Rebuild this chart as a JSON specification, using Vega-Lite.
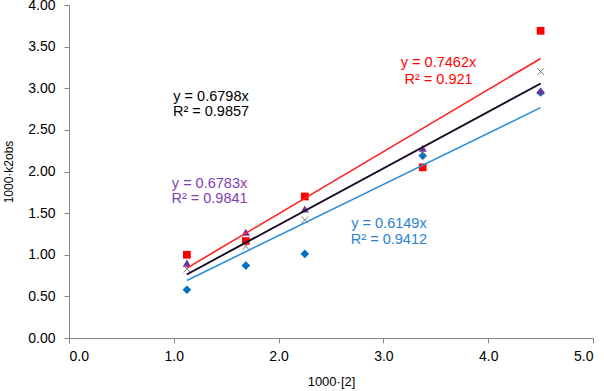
{
  "$schema": "https://vega.github.io/schema/vega-lite/v6.json",
  "width": 524,
  "height": 333,
  "autosize": "none",
  "padding": {"left": 69, "top": 5, "right": 11, "bottom": 53},
  "background": "white",
  "config": {
    "view": {"stroke": null},
    "font": "Liberation Sans",
    "axis": {
      "grid": false,
      "domainColor": "#868686",
      "tickColor": "#868686",
      "labelColor": "#000000",
      "labelFont": "Liberation Sans",
      "labelFontSize": 14,
      "titleFont": "Liberation Sans",
      "titleFontWeight": "normal",
      "titleColor": "#000000",
      "tickSize": 5
    }
  },
  "datasets": {
    "points": [
      {"series": "diamond", "x": 1.125, "y": 0.58},
      {"series": "diamond", "x": 1.6875, "y": 0.87},
      {"series": "diamond", "x": 2.25, "y": 1.01},
      {"series": "diamond", "x": 3.375, "y": 2.19},
      {"series": "diamond", "x": 4.5, "y": 2.95},
      {"series": "triangle", "x": 1.125, "y": 0.90},
      {"series": "triangle", "x": 1.6875, "y": 1.27},
      {"series": "triangle", "x": 2.25, "y": 1.55},
      {"series": "triangle", "x": 3.375, "y": 2.28},
      {"series": "triangle", "x": 4.5, "y": 2.97},
      {"series": "square", "x": 1.125, "y": 1.00},
      {"series": "square", "x": 1.6875, "y": 1.165},
      {"series": "square", "x": 2.25, "y": 1.70},
      {"series": "square", "x": 3.375, "y": 2.05},
      {"series": "square", "x": 4.5, "y": 3.69}
    ],
    "crosses": [
      {"series": "cross", "x": 1.125, "y": 0.83},
      {"series": "cross", "x": 1.6875, "y": 1.10},
      {"series": "cross", "x": 2.25, "y": 1.42},
      {"series": "cross", "x": 3.375, "y": 2.22},
      {"series": "cross", "x": 4.5, "y": 3.20}
    ],
    "trends": [
      {"series": "diamond", "x": 1.125, "y": 0.6918},
      {"series": "diamond", "x": 4.5, "y": 2.7671},
      {"series": "triangle", "x": 1.125, "y": 0.7631},
      {"series": "triangle", "x": 4.5, "y": 3.0524},
      {"series": "square", "x": 1.125, "y": 0.8395},
      {"series": "square", "x": 4.5, "y": 3.3579},
      {"series": "cross", "x": 1.125, "y": 0.7648},
      {"series": "cross", "x": 4.5, "y": 3.0591}
    ],
    "labels": [
      {"series": "square", "x": 3.526, "y": 3.301, "label": "y = 0.7462x"},
      {"series": "square", "x": 3.526, "y": 3.097, "label": "R² = 0.921"},
      {"series": "cross", "x": 1.355, "y": 2.898, "label": "y = 0.6798x"},
      {"series": "cross", "x": 1.355, "y": 2.718, "label": "R² = 0.9857"},
      {"series": "triangle", "x": 1.341, "y": 1.853, "label": "y = 0.6783x"},
      {"series": "triangle", "x": 1.341, "y": 1.667, "label": "R² = 0.9841"},
      {"series": "diamond", "x": 3.053, "y": 1.373, "label": "y = 0.6149x"},
      {"series": "diamond", "x": 3.053, "y": 1.181, "label": "R² = 0.9412"}
    ]
  },
  "encoding": {
    "x": {
      "field": "x", "type": "quantitative",
      "scale": {"domain": [0, 5], "nice": false, "zero": false},
      "axis": {
        "title": "1000·[2]", "values": [0, 1, 2, 3, 4, 5], "format": ".1f",
        "labelPadding": 6, "titleFontSize": 13, "titleY": 43, "titleBaseline": "middle"
      }
    },
    "y": {
      "field": "y", "type": "quantitative",
      "scale": {"domain": [0, 4], "nice": false, "zero": false},
      "axis": {
        "title": "1000·k2obs", "values": [0, 0.5, 1, 1.5, 2, 2.5, 3, 3.5, 4], "format": ".2f",
        "labelPadding": 9, "titleFontSize": 12, "titleX": -61, "titleY": 166.5,
        "titleBaseline": "middle", "titleAngle": -90
      }
    }
  },
  "layer": [
    {
      "data": {"name": "points"},
      "mark": {"type": "point", "filled": true, "opacity": 1},
      "encoding": {
        "color": {"field": "series", "type": "nominal", "legend": null,
          "scale": {"domain": ["diamond", "triangle", "square"], "range": ["#0070C0", "#7030A0", "#FF0000"]}},
        "shape": {"field": "series", "type": "nominal", "legend": null,
          "scale": {"domain": ["diamond", "triangle", "square"], "range": ["diamond", "triangle-up", "square"]}},
        "size": {"field": "series", "type": "nominal", "legend": null,
          "scale": {"domain": ["diamond", "triangle", "square"], "range": [75, 60, 55]}}
      }
    },
    {
      "data": {"name": "crosses"},
      "mark": {"type": "point", "filled": false, "opacity": 1, "strokeWidth": 1,
        "shape": "M-1,-1L1,1M1,-1L-1,1", "size": 45},
      "encoding": {
        "color": {"field": "series", "type": "nominal", "legend": null,
          "scale": {"domain": ["cross"], "range": ["#7F7F7F"]}}
      }
    },
    {
      "data": {"name": "trends"},
      "mark": {"type": "line", "strokeWidth": 1.6},
      "encoding": {
        "color": {"field": "series", "type": "nominal", "legend": null,
          "scale": {"domain": ["diamond", "triangle", "square", "cross"], "range": ["#2B8FDB", "#7030A0", "#FF2020", "#111111"]}},
        "detail": {"field": "series"},
        "order": {"field": "x"}
      }
    },
    {
      "data": {"name": "labels"},
      "mark": {"type": "text", "align": "center", "baseline": "middle", "fontSize": 14.5, "font": "Liberation Sans"},
      "encoding": {
        "text": {"field": "label"},
        "color": {"field": "series", "type": "nominal", "legend": null,
          "scale": {"domain": ["diamond", "triangle", "square", "cross"], "range": ["#2A84D2", "#7F3FB5", "#FF0000", "#000000"]}}
      }
    }
  ],
  "resolve": {"scale": {"color": "independent"}}
}
